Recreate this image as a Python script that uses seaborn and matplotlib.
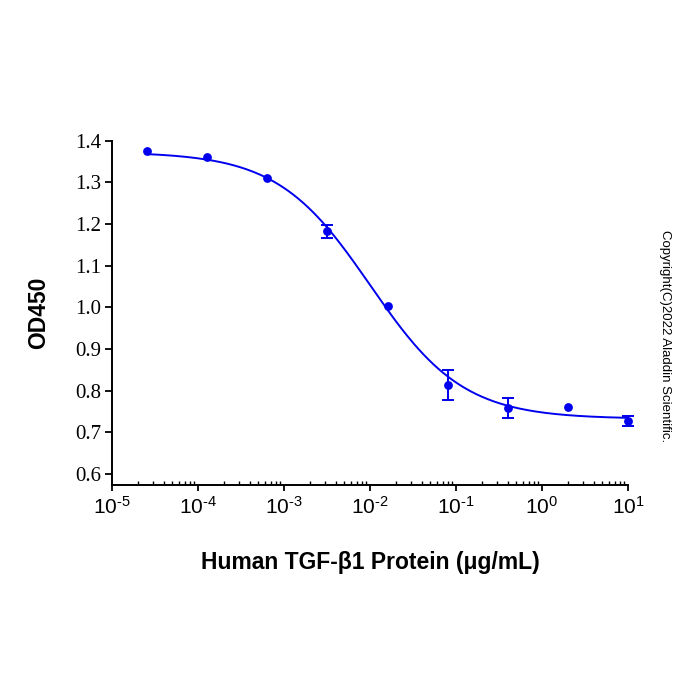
import numpy as np
import pandas as pd
import seaborn as sns
import matplotlib
matplotlib.use("Agg")
import matplotlib.pyplot as plt
from matplotlib.ticker import LogLocator, NullFormatter

conc = [2.56e-5, 1.28e-4, 6.4e-4, 3.2e-3, 1.6e-2, 8e-2, 0.4, 2.0, 10.0]
od450 = [1.376, 1.362, 1.311, 1.182, 1.004, 0.813, 0.758, 0.761, 0.726]
od_sd = [0.0, 0.0, 0.0, 0.015, 0.0, 0.036, 0.023, 0.0, 0.012]

# 4PL fit parameters for the drawn curve
top, bottom, ec50, hill = 1.373, 0.732, 0.0101, 0.804

xtick_vals = [1e-5, 1e-4, 1e-3, 1e-2, 1e-1, 1e0, 1e1]
xtick_labels = [r"$10^{\text{-}5}$", r"$10^{\text{-}4}$", r"$10^{\text{-}3}$",
                r"$10^{\text{-}2}$", r"$10^{\text{-}1}$", r"$10^{0}$", r"$10^{1}$"]
ytick_vals = [0.6, 0.7, 0.8, 0.9, 1.0, 1.1, 1.2, 1.3, 1.4]

blue = "#0000ee"

sns.set_style("ticks")
plt.rcParams["font.family"] = ["Liberation Sans", "DejaVu Sans"]
plt.rcParams["text.color"] = "black"
plt.rcParams["axes.labelcolor"] = "black"
plt.rcParams["xtick.color"] = "black"
plt.rcParams["ytick.color"] = "black"
plt.rcParams["mathtext.fontset"] = "custom"
plt.rcParams["mathtext.rm"] = "Liberation Sans"
plt.rcParams["mathtext.it"] = "Liberation Sans"
plt.rcParams["mathtext.default"] = "regular"

df = pd.DataFrame({"conc": conc, "od": od450, "sd": od_sd})

xs = np.logspace(np.log10(conc[0]), np.log10(conc[-1]), 300)
fit = pd.DataFrame({"conc": xs, "od": bottom + (top - bottom) / (1 + (xs / ec50) ** hill)})

fig = plt.figure(figsize=(7, 7), dpi=100)
ax = fig.add_axes([0.16, 0.307, 0.737, 0.492])

sns.lineplot(data=fit, x="conc", y="od", color=blue, linewidth=1.4, ax=ax)
err = df[df["sd"] > 0]
eb = ax.errorbar(err["conc"], err["od"], yerr=err["sd"], fmt="none", ecolor=blue,
                 elinewidth=1.4, capsize=4, capthick=1.4)
for art in eb.lines[1] + eb.lines[2]:
    art.set_clip_on(False)
sns.scatterplot(data=df, x="conc", y="od", color=blue, s=40, edgecolor=blue,
                linewidth=0, ax=ax, zorder=5, clip_on=False)

ax.set_xscale("log")
ax.set_xlim(1e-5, 10)
ax.set_ylim(0.573, 1.4)
ax.set_xticks(xtick_vals)
ax.set_xticklabels(xtick_labels, fontsize=15, fontfamily="Liberation Sans")
ax.xaxis.set_minor_locator(LogLocator(base=10, subs=np.arange(2, 10), numticks=20))
ax.xaxis.set_minor_formatter(NullFormatter())
ax.set_yticks(ytick_vals)
ax.set_yticklabels([f"{v:.1f}" for v in ytick_vals], fontsize=15,
                   fontfamily="Liberation Serif")

ax.tick_params(axis="x", which="major", direction="out", length=4, width=1.3, pad=4)
ax.tick_params(axis="x", which="minor", direction="in", length=3, width=1.0)
ax.tick_params(axis="y", which="major", direction="out", length=5, width=1.3, pad=3)

for s in ["top", "right"]:
    ax.spines[s].set_visible(False)
for s in ["left", "bottom"]:
    ax.spines[s].set_linewidth(1.4)
    ax.spines[s].set_color("black")

ax.set_xlabel("Human TGF-β1 Protein (μg/mL)", fontsize=16.5, fontweight="bold", labelpad=24)
ax.set_ylabel("OD450", fontsize=16.5, fontweight="bold", labelpad=18)

fig.text(0.95, 0.52, "Copyright(C)2022 Aladdin Scientific.", rotation=-90,
         fontsize=9.5, ha="center", va="center")

fig.savefig("out.png", dpi=100, facecolor="white")
